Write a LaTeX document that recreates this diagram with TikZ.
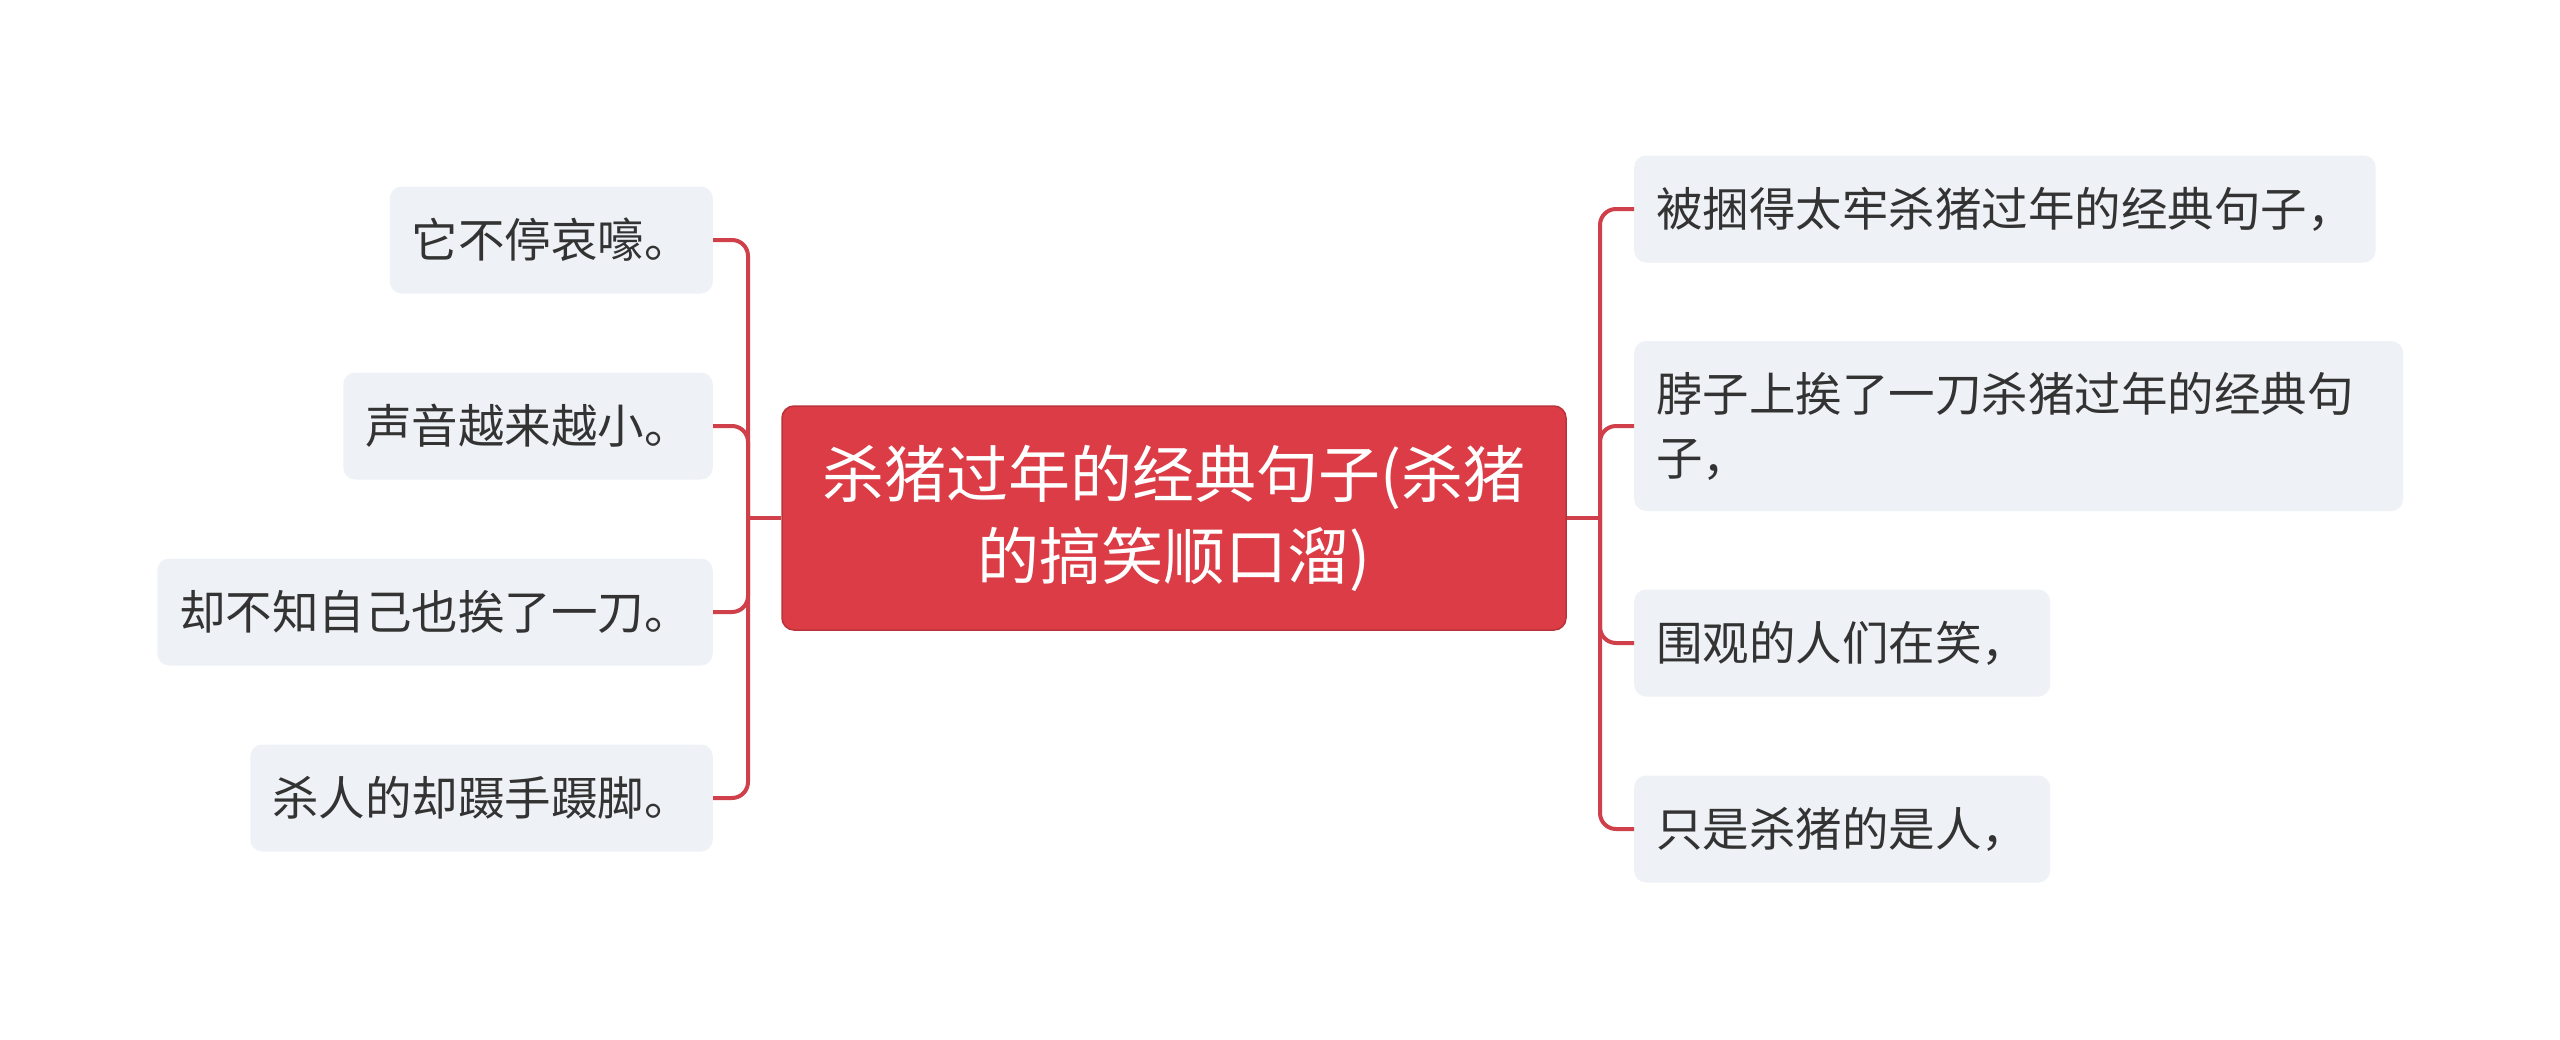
\documentclass[tikz,border=0pt]{standalone}
\usepackage{fontspec}
\setmainfont{Noto Sans CJK SC}

\definecolor{rootred}{HTML}{DB3C45}
\definecolor{linkred}{HTML}{D0404A}
\definecolor{leafgray}{HTML}{EEF1F5}
\definecolor{inkgray}{HTML}{333333}

\tikzset{
  root/.style={fill=rootred, draw=rootred!85!black, line width=1.5pt,
    rounded corners=12pt, text=white, font=\fontsize{62}{82}\selectfont,
    align=center, text width=720pt, minimum width=784pt,
    minimum height=224pt, inner sep=0pt},
  leaf/.style={fill=leafgray, rounded corners=12pt, text=inkgray,
    font=\fontsize{46.5}{64}\selectfont, inner xsep=22pt, inner ysep=0pt,
    minimum height=107pt},
  link/.style={draw=linkred, line width=4pt, rounded corners=16pt},
}

\begin{document}
\begin{tikzpicture}[x=1pt, y=-1pt]
    \fill[white] (0,0) rectangle (2560,1039);
    \useasboundingbox (0,0) rectangle (2560,1039);

    % centre topic
    \node[root] (root) at (1174,518) {杀猪过年的经典句子(杀猪\\的搞笑顺口溜)};
    \coordinate (lj) at (748,518);
    \coordinate (rj) at (1600,518);

    % left side
    \node[leaf, anchor=east] (l1) at (713,240) {它不停哀嚎。};
    \node[leaf, anchor=east] (l2) at (713,426) {声音越来越小。};
    \node[leaf, anchor=east] (l3) at (713,612) {却不知自己也挨了一刀。};
    \node[leaf, anchor=east] (l4) at (713,798) {杀人的却蹑手蹑脚。};

    % right side
    \node[leaf, anchor=west] (r1) at (1634,209) {被捆得太牢杀猪过年的经典句子，};
    \node[leaf, anchor=west, align=left, text width=725pt,
      minimum height=170pt] (r2) at (1634,426) {脖子上挨了一刀杀猪过年的经典句\\子，};
    \node[leaf, anchor=west] (r3) at (1634,643) {围观的人们在笑，};
    \node[leaf, anchor=west] (r4) at (1634,829) {只是杀猪的是人，};

    \draw[link] (root.west) -- (lj);
    \draw[link] (root.east) -- (rj);
    \foreach \n in {l1,l2,l3,l4}
      \draw[link] (lj) |- (\n.east);
    \foreach \n in {r1,r2,r3,r4}
      \draw[link] (rj) |- (\n.west);
  \end{tikzpicture}
\end{document}
